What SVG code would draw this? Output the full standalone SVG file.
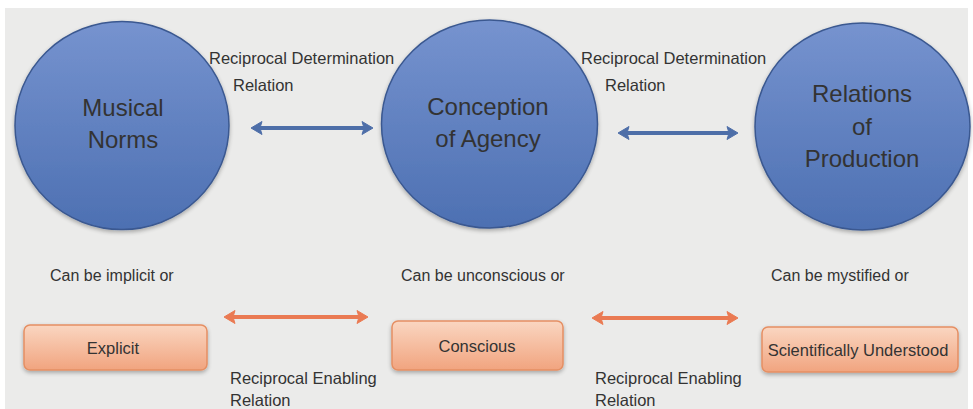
<svg xmlns="http://www.w3.org/2000/svg" width="973" height="409" viewBox="0 0 973 409">
  <defs>
    <linearGradient id="ballFill" x1="0" y1="0" x2="0" y2="1">
      <stop offset="0" stop-color="#7693cf"/>
      <stop offset="1" stop-color="#4d70b2"/>
    </linearGradient>
    <linearGradient id="boxFill" x1="0" y1="0" x2="0" y2="1">
      <stop offset="0" stop-color="#fad6c1"/>
      <stop offset="1" stop-color="#f1a47f"/>
    </linearGradient>
    <filter id="softShadow" x="-10%" y="-10%" width="120%" height="125%">
      <feGaussianBlur in="SourceAlpha" stdDeviation="2"/>
      <feOffset dx="0" dy="2" result="b"/>
      <feComponentTransfer><feFuncA type="linear" slope="0.3"/></feComponentTransfer>
      <feMerge><feMergeNode/><feMergeNode in="SourceGraphic"/></feMerge>
    </filter>
    <filter id="arrowBlur" x="-5%" y="-50%" width="110%" height="200%">
      <feGaussianBlur stdDeviation="0.7"/>
    </filter>
  </defs>
  <style>
    .ball { fill: url(#ballFill); stroke: #3a5890; stroke-width: 1.5; filter: url(#softShadow); }
    .box { fill: url(#boxFill); stroke: #e58f63; stroke-width: 1.5; filter: url(#softShadow); }
    .t { font-family: "Liberation Sans", Arial, sans-serif; fill: #333333; }
    .big { font-size: 24px; text-anchor: middle; }
    .lbl { font-size: 16.5px; }
    .note { font-size: 16px; }
    .boxt { font-size: 16.5px; text-anchor: middle; }
    .blue { stroke: #4e6ea8; fill: #4e6ea8; }
    .orange { stroke: #ea7a52; fill: #ea7a52; }
  </style>

  <!-- page -->
  <rect x="0" y="0" width="973" height="409" fill="#ffffff"/>
  <rect x="5" y="8" width="963" height="401" fill="#ebebea"/>

  <!-- upper row: circles -->
  <g id="musical-norms">
    <ellipse class="ball" cx="122" cy="125.5" rx="107" ry="104"/>
    <text class="t big" x="123" y="116">Musical</text>
    <text class="t big" x="123" y="148">Norms</text>
  </g>
  <g id="conception-of-agency">
    <ellipse class="ball" cx="489.5" cy="124" rx="108" ry="104"/>
    <text class="t big" x="488" y="115">Conception</text>
    <text class="t big" x="488" y="147">of Agency</text>
  </g>
  <g id="relations-of-production">
    <ellipse class="ball" cx="862.5" cy="126.5" rx="107.5" ry="103.5"/>
    <text class="t big" x="862" y="102">Relations</text>
    <text class="t big" x="862" y="135">of</text>
    <text class="t big" x="862" y="167">Production</text>
  </g>

  <!-- lower row: boxes -->
  <g id="explicit">
    <text class="t note" x="50" y="281">Can be implicit or</text>
    <rect class="box" x="24" y="325" width="183" height="45" rx="6"/>
    <text class="t boxt" x="113" y="354">Explicit</text>
  </g>
  <g id="conscious">
    <text class="t note" x="401" y="281">Can be unconscious or</text>
    <rect class="box" x="392" y="321" width="171" height="49" rx="6"/>
    <text class="t boxt" x="477" y="352">Conscious</text>
  </g>
  <g id="scientifically-understood">
    <text class="t note" x="771" y="281">Can be mystified or</text>
    <rect class="box" x="762" y="327" width="196" height="45" rx="6"/>
    <text class="t boxt" x="858" y="356">Scientifically Understood</text>
  </g>

  <!-- connectors -->
  <g id="connectors" filter="url(#arrowBlur)">
    <g class="blue">
      <line x1="258" y1="128" x2="366" y2="128" stroke-width="4"/>
      <polygon points="251,128 262,121.5 260,128 262,134.5"/>
      <polygon points="373,128 362,121.5 364,128 362,134.5"/>
      <line x1="625" y1="133" x2="731" y2="133" stroke-width="4"/>
      <polygon points="618,133 629,126.5 627,133 629,139.5"/>
      <polygon points="738,133 727,126.5 729,133 727,139.5"/>
    </g>
    <g class="orange">
      <line x1="231" y1="317" x2="361" y2="317" stroke-width="4"/>
      <polygon points="224,317 235,310.5 233,317 235,323.5"/>
      <polygon points="368,317 357,310.5 359,317 357,323.5"/>
      <line x1="599" y1="318" x2="731" y2="318" stroke-width="4"/>
      <polygon points="592,318 603,311.5 601,318 603,324.5"/>
      <polygon points="738,318 727,311.5 729,318 727,324.5"/>
    </g>
  </g>

  <!-- relation labels -->
  <g id="relation-labels">
    <text class="t lbl" x="209" y="64">Reciprocal Determination</text>
    <text class="t lbl" x="233" y="91">Relation</text>
    <text class="t lbl" x="581" y="64">Reciprocal Determination</text>
    <text class="t lbl" x="605" y="91">Relation</text>
    <text class="t lbl" x="230" y="384">Reciprocal Enabling</text>
    <text class="t lbl" x="230" y="406">Relation</text>
    <text class="t lbl" x="595" y="384">Reciprocal Enabling</text>
    <text class="t lbl" x="595" y="406">Relation</text>
  </g>
</svg>
